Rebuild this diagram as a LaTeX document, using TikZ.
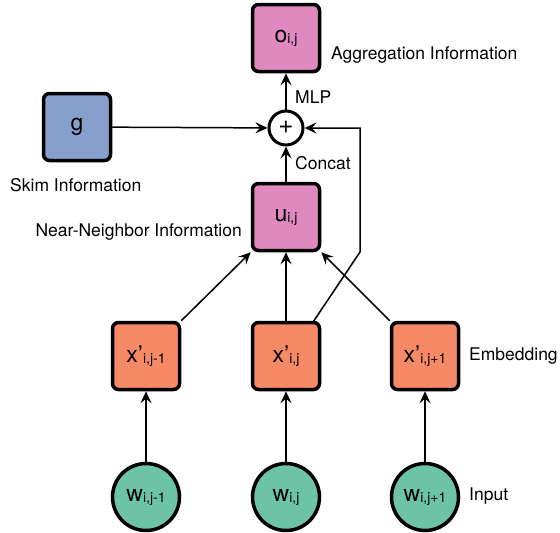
\documentclass[tikz,border=0pt]{standalone}
\usepackage{fontspec}
\setmainfont{TeX Gyre Heros}
\usetikzlibrary{arrows.meta,calc}
\definecolor{pinkf}{HTML}{E088C0}
\definecolor{bluef}{HTML}{87A0CB}
\definecolor{orangef}{HTML}{F68A66}
\definecolor{greenf}{HTML}{6CC3A5}
\newcommand{\mainsym}[1]{{\fontsize{23}{23}\selectfont #1}}
\newcommand{\sbs}[1]{\raisebox{-1pt}{\fontsize{14}{14}\selectfont #1}}
\tikzset{
  boxnode/.style={draw, line width=3.5pt, rounded corners=6pt, minimum width=67pt, minimum height=67pt, inner sep=0pt},
  circnode/.style={draw, line width=3.5pt, circle, fill=greenf, minimum size=67pt, inner sep=0pt},
  plusnode/.style={draw, line width=3pt, circle, minimum size=34pt, inner sep=0pt, fill=white},
  conn/.style={line width=1.5pt, -{Stealth[length=12pt, width=11pt, inset=4.5pt]}},
  lbl/.style={inner sep=0pt, font=\fontsize{17.5}{20}\selectfont}
}
\begin{document}
\begin{tikzpicture}[x=1pt,y=-1pt]
\useasboundingbox (0,0) rectangle (560,533);
\node[boxnode, fill=pinkf] (o) at (286,38) {\mainsym{o}\sbs{i,j}};
\node[boxnode, fill=bluef] (g) at (77,127) {\mainsym{g}};
\node[plusnode] (plus) at (286,128) {\fontsize{26}{26}\selectfont\raisebox{1pt}{+}};
\node[boxnode, fill=pinkf] (u) at (286,217) {\mainsym{u}\sbs{i,j}};
\node[boxnode, fill=orangef] (xl) at (146,356) {\mainsym{x’}\sbs{i,j-1}};
\node[boxnode, fill=orangef] (xm) at (286,356) {\mainsym{x’}\sbs{i,j}};
\node[boxnode, fill=orangef] (xr) at (425,356) {\mainsym{x’}\sbs{i,j+1}};
\node[circnode] (wl) at (146,497) {\mainsym{w}\sbs{i,j-1}};
\node[circnode] (wm) at (286,497) {\mainsym{w}\sbs{i,j}};
\node[circnode] (wr) at (425,497) {\mainsym{w}\sbs{i,j+1}};
\coordinate (s1) at ($(xm.north east)+(-8,1)$);
\coordinate (b1) at (360,252);
\coordinate (b2) at (360,128);
% labels
\node[lbl, anchor=west] (lagg) at (331,55) {Aggregation Information};
\node[lbl, anchor=west] (lmlp) at (295,97) {MLP};
\node[lbl, anchor=west] (lcon) at (295,163) {Concat};
\node[lbl, anchor=west] (lskim) at (10,185) {Skim Information};
\node[lbl, anchor=east] (lnn) at (242,232) {Near-Neighbor Information};
\node[lbl, anchor=west] (lemb) at (469,356) {Embedding};
\node[lbl, anchor=west] (linp) at (469,496) {Input};
% connectors
\draw[conn] (wl) -- (xl);
\draw[conn] (wm) -- (xm);
\draw[conn] (wr) -- (xr);
\draw[conn] (xl.north east) -- (u.south west);
\draw[conn] (xm) -- (u);
\draw[conn] (xr.north west) -- (u.south east);
\draw[conn] (s1) -- (b1) -- (b2) -- (plus);
\draw[conn] (u) -- (plus);
\draw[conn] (plus) -- (o);
\draw[conn] (g) -- (plus);
\end{tikzpicture}
\end{document}
